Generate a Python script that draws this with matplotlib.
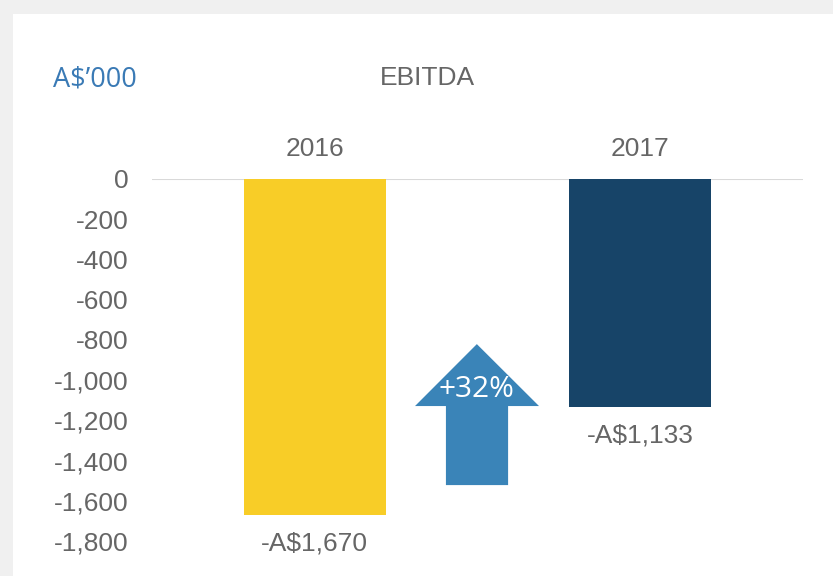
import matplotlib.pyplot as plt
from matplotlib.patches import Polygon, Rectangle

years = ['2016', '2017']
ebitda = [-1670, -1133]
bar_labels = ['-A$1,670', '-A$1,133']
bar_colors = ['#F8CD27', '#174468']
yticks = [0, -200, -400, -600, -800, -1000, -1200, -1400, -1600, -1800]
change_label = '+32%'

grey = '#666666'
plt.rcParams['font.family'] = ['Liberation Sans', 'DejaVu Sans']

fig = plt.figure(figsize=(8.33, 5.76), dpi=100)
fig.patch.set_facecolor('#f0f0f0')
# white card
fig.patches.append(Rectangle((13 / 833, 0), 1, 1 - 14 / 576, transform=fig.transFigure,
                             facecolor='white', edgecolor='none', zorder=-5))

ax = fig.add_axes([152 / 833, 1 - 541 / 576, 651 / 833, 362 / 576])
ax.set_facecolor('none')
x = range(len(years))
ax.bar(x, ebitda, width=0.436, color=bar_colors, zorder=2)
ax.set_xlim(-0.5, 1.5)
ax.set_ylim(-1800, 0)
ax.axhline(0, color='#d9d9d9', lw=1.5, zorder=1)

for s in ax.spines.values():
    s.set_visible(False)
ax.set_yticks(yticks)
ax.set_yticklabels([f'{v:,}' for v in yticks])
ax.tick_params(axis='y', length=0, labelsize=19, labelcolor=grey, pad=17)
ax.xaxis.tick_top()
ax.set_xticks(list(x))
ax.set_xticklabels(years)
ax.tick_params(axis='x', length=0, labelsize=19, labelcolor=grey, pad=13)

for i, (v, lab) in enumerate(zip(ebitda, bar_labels)):
    ax.annotate(lab, (i, v), xytext=(0, -12), textcoords='offset points',
                ha='center', va='top', fontsize=19, color=grey, clip_on=False)

# up arrow between the bars
arrow = [(0.498, -821), (0.689, -1129), (0.594, -1129), (0.594, -1522),
         (0.403, -1522), (0.403, -1129), (0.308, -1129)]
ax.add_patch(Polygon(arrow, closed=True, facecolor='#3A84B8', edgecolor='none', zorder=3))
ax.text(0.498, -1045, change_label, ha='center', va='center', fontsize=21.5,
        color='white', family=['Open Sans', 'DejaVu Sans'], zorder=4)

fig.text(427 / 833, 1 - 78 / 576, 'EBITDA', ha='center', va='center', fontsize=19, color=grey)
fig.text(53 / 833, 1 - 79 / 576, 'A$\u2019000', ha='left', va='center', fontsize=19.5,
         color='#3A7AB5', family=['Open Sans', 'DejaVu Sans'])

fig.savefig('out.png', dpi=100, facecolor=fig.get_facecolor())
